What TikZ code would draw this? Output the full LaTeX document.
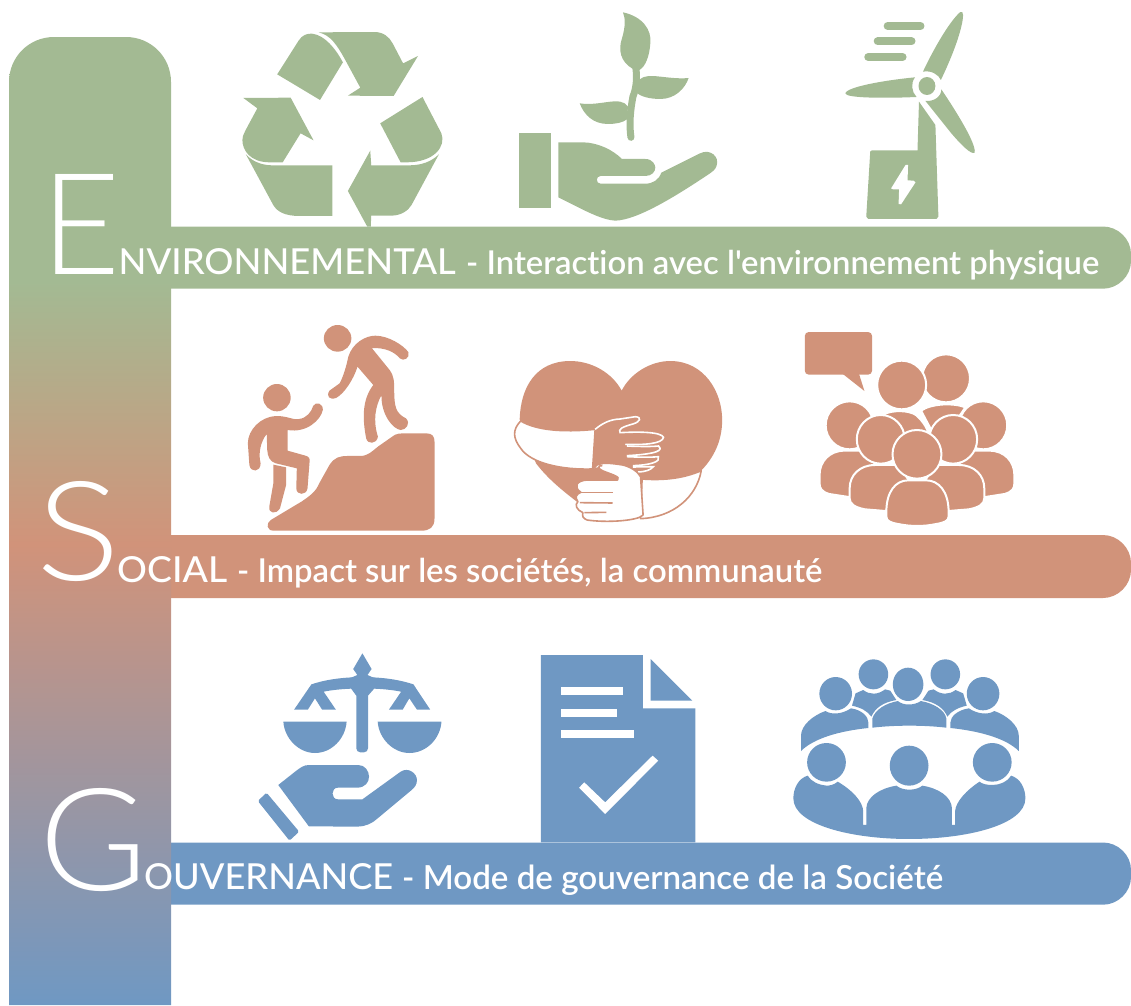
\documentclass[tikz,border=0pt]{standalone}
\usepackage{fontspec}
\usepackage{graphicx}
\newfontfamily\lightf{Lato Light}
\newfontfamily\regf{Lato Medium}
\newfontfamily\medf[Ligatures={NoCommon}]{Lato Semibold}
\definecolor{eg}{HTML}{A3BA93}
\definecolor{sr}{HTML}{D1937A}
\definecolor{gb}{HTML}{6F98C3}
\pgfdeclareverticalshading{esgshade}{100bp}{color(0bp)=(gb); color(25bp)=(gb); color(48.8bp)=(sr); color(62.4bp)=(eg); color(100bp)=(eg)}
\tikzset{
 big/.style={anchor=base west,inner sep=0pt,text=white},
 txt/.style={anchor=base west,inner sep=0pt,text=white},
 wline/.style={draw=white,line width=2pt},
 sline/.style={draw=sr,line width=1.6pt,line join=round},
}
\newcommand{\fitw}[2]{\resizebox{#1pt}{!}{#2}}
\newcommand{\fitwh}[3]{\resizebox{#1pt}{#2pt}{#3}}
\begin{document}
\begin{tikzpicture}[x=1pt,y=-1pt]
\useasboundingbox (0,0) rectangle (1131,1005);
% bars
\fill[eg] (171,226.5) -- (1103,226.5) .. controls (1118,226.5) and (1131,239) .. (1131,254) -- (1131,261) .. controls (1131,276) and (1118,288.7) .. (1103,288.7) -- (171,288.7) -- cycle;
\fill[sr] (171,535) -- (1103,535) .. controls (1118,535) and (1131,548) .. (1131,563) -- (1131,570) .. controls (1131,585) and (1118,598) .. (1103,598) -- (171,598) -- cycle;
\fill[gb] (171,842.5) -- (1103,842.5) .. controls (1118,842.5) and (1131,855) .. (1131,870) -- (1131,877) .. controls (1131,892) and (1118,904.7) .. (1103,904.7) -- (171,904.7) -- cycle;
% column
\shade[shading=esgshade] (9,1005) -- (9,82) .. controls (9,57) and (29,37) .. (54,37) -- (126,37) .. controls (151,37) and (171,57) .. (171,82) -- (171,1005) -- cycle;
% text
\node[big] (bigE) at (41,274) {\fitwh{79}{100}{\lightf E}};
\node[big] (bigS) at (36.6,580) {\fitwh{84}{99}{\lightf S}};
\node[big] (bigG) at (39.4,890) {\fitwh{108}{102}{\lightf G}};
\node[txt] (t1a) at (118.5,274) {\fitwh{337}{26}{\regf NVIRONNEMENTAL}};
\node[txt] (t1c) at (466,274) {\fitw{633}{\medf - Interaction avec l'environnement physique}};
\node[txt] (t2a) at (117,582) {\fitwh{110}{26}{\regf OCIAL}};
\node[txt] (t2c) at (237,582) {\fitw{585}{\medf - Impact sur les sociétés, la communauté}};
\node[txt] (t3a) at (144,889) {\fitwh{249}{26}{\regf OUVERNANCE}};
\node[txt] (t3c) at (402,889) {\fitw{541}{\medf - Mode de gouvernance de la Société}};
% ---------- ENVIRONMENT
\begin{scope}[shift={(220,0)},xscale=0.4975,yscale=0.3333,fill=eg]
\fill (115,223) -- (158,122) .. controls (165,105) and (175,100) .. (185,101) .. controls (210,105) and (232,145) .. (247,187) -- (201,300) -- cycle;
\fill (198,97) -- (310,96) .. controls (328,96) and (340,110) .. (347,130) -- (368,190) -- (398,168) -- (349,288) -- (257,287) -- (282,263) -- (250,175) .. controls (235,135) and (222,105) .. (198,97) -- cycle;
\fill (47,294) -- (142,293) -- (188,421) -- (162,400) -- (126,487) -- (100,487) .. controls (60,487) and (45,450) .. (45,420) .. controls (45,405) and (50,395) .. (75,325) -- cycle;
\fill (52,463) .. controls (65,485) and (85,496) .. (105,496) -- (226,496) -- (226,648) -- (160,648) .. controls (130,648) and (115,635) .. (107,615) -- cycle;
\fill (302,452) -- (304,496) -- (380,496) .. controls (405,496) and (425,485) .. (440,463) -- (385,615) .. controls (378,632) and (365,646) .. (345,647) -- (304,647) -- (303,680) -- (296,680) -- (257,573) -- cycle;
\fill (407,291) -- (445,400) .. controls (455,440) and (430,487) .. (375,487) -- (363,487) -- (322,370) -- cycle;
% hand and plant
\fill (601,399) rectangle (665,624);
\fill (680,427) -- (730,427) .. controls (760,428) and (790,450) .. (808,477) -- (855,477) .. controls (870,477) and (875,495) .. (875,503) .. controls (875,515) and (868,528) .. (855,528) -- (765,528) .. controls (755,528) and (755,551) .. (765,551) -- (855,551) .. controls (870,551) and (882,540) .. (887,518) -- (965,460) .. controls (985,445) and (1005,470) .. (998,498) .. controls (995,510) and (990,515) .. (985,520) .. controls (920,585) and (840,660) .. (795,662) .. controls (765,660) and (725,625) .. (680,592) -- cycle;
\draw[eg,line width=7pt,line cap=round] (826,412) .. controls (822,370) and (825,330) .. (830,290) .. controls (838,260) and (838,230) .. (836,205);
\fill (810,37) .. controls (850,50) and (868,90) .. (865,130) .. controls (863,170) and (855,200) .. (843,210) -- (829,206) .. controls (805,185) and (800,150) .. (808,115) .. controls (815,80) and (815,55) .. (810,37) -- cycle;
\fill (844,238) .. controls (860,215) and (900,240) .. (942,234) .. controls (935,265) and (915,297) .. (885,297) .. controls (865,297) and (845,290) .. (838,278) -- cycle;
\fill (820,320) .. controls (805,285) and (765,320) .. (723,310) .. controls (732,345) and (750,372) .. (780,372) .. controls (795,372) and (810,368) .. (818,358) -- cycle;
% turbine
\draw[eg,line width=8pt,line cap=round] (1342,78) -- (1408,78);
\draw[eg,line width=8pt,line cap=round] (1322,124) -- (1390,124);
\draw[eg,line width=8pt,line cap=round] (1303,171) -- (1372,171);
\fill (1413,215) .. controls (1430,160) and (1465,65) .. (1488,36) .. controls (1495,30) and (1495,50) .. (1490,80) .. controls (1482,130) and (1465,190) .. (1449,240) .. controls (1445,225) and (1430,210) .. (1413,215) -- cycle;
\fill (1397,232) .. controls (1340,240) and (1260,260) .. (1257,280) .. controls (1257,295) and (1340,295) .. (1400,291) .. controls (1390,275) and (1388,250) .. (1397,232) -- cycle;
\fill (1450,268) .. controls (1480,335) and (1520,430) .. (1517,458) .. controls (1510,465) and (1490,435) .. (1470,400) -- (1418,303) .. controls (1435,305) and (1450,290) .. (1450,268) -- cycle;
\fill (1421,258) ellipse[x radius=17,y radius=27];
\fill (1405,305) -- (1438,375) -- (1444,650) -- (1440,657) -- (1303,657) -- (1299,650) -- (1307,455) -- (1310,451) -- (1402,451) -- cycle;
\fill[white] (1378,495) -- (1349,565) -- (1353,568) -- (1365,568) -- (1364,612) -- (1369,613) -- (1398,547) -- (1394,542) -- (1382,541) -- (1383,495) -- cycle;
\end{scope}
% ---------- SOCIAL
\begin{scope}[shift={(230,320)},xscale=0.51,yscale=0.3333,fill=sr]
\fill (211,55) ellipse[x radius=27,y radius=40];
\fill (195,212) -- (215,190) .. controls (222,170) and (228,140) .. (232,110) .. controls (240,70) and (265,47) .. (285,47) .. controls (310,47) and (340,75) .. (350,97) .. controls (353,115) and (340,125) .. (333,115) .. controls (322,95) and (305,83) .. (278,84) -- (313,150) .. controls (322,170) and (322,185) .. (322,210) .. controls (322,260) and (325,280) .. (345,295) .. controls (355,310) and (345,330) .. (335,330) .. controls (320,328) and (296,285) .. (297,225) .. controls (285,260) and (280,300) .. (290,350) .. controls (288,372) and (270,375) .. (267,355) .. controls (260,300) and (258,240) .. (281,195) -- (250,140) .. controls (243,175) and (225,220) .. (208,234) .. controls (195,240) and (188,230) .. (195,212) -- cycle;
\fill (92,233) ellipse[x radius=27,y radius=41];
\fill (35,370) .. controls (35,330) and (60,290) .. (90,288) .. controls (115,288) and (120,300) .. (135,297) .. controls (150,295) and (160,275) .. (163,258) .. controls (168,243) and (183,250) .. (182,270) .. controls (178,300) and (150,340) .. (113,330) -- (113,392) -- (148,407) .. controls (155,410) and (157,415) .. (156,425) -- (152,505) .. controls (150,527) and (130,527) .. (130,505) -- (131,445) -- (90,430) .. controls (78,425) and (74,410) .. (73,390) -- (72,342) .. controls (60,365) and (55,400) .. (60,430) .. controls (60,458) and (40,458) .. (38,435) -- cycle;
\fill (85,434) -- (110,442) -- (110,495) -- (98,565) .. controls (90,585) and (75,580) .. (77,560) -- (85,490) -- cycle;
\fill (80,600) -- (140,545) .. controls (160,525) and (170,510) .. (175,490) -- (195,435) .. controls (205,412) and (215,408) .. (230,408) -- (255,408) .. controls (270,408) and (278,395) .. (290,380) -- (318,350) .. controls (325,340) and (335,340) .. (345,340) -- (385,340) .. controls (397,340) and (401,350) .. (401,365) -- (401,595) .. controls (401,622) and (392,632) .. (375,632) -- (85,632) .. controls (72,632) and (70,610) .. (80,600) -- cycle;
% heart
\fill (768,212) .. controls (750,160) and (710,122) .. (665,123) .. controls (600,125) and (570,200) .. (568,298) -- (600,430) .. controls (625,480) and (655,515) .. (680,545) -- (800,590) -- (925,450) .. controls (950,410) and (965,360) .. (965,300) .. controls (965,215) and (930,125) .. (865,123) .. controls (825,122) and (785,160) .. (768,212) -- cycle;
\filldraw[sline,fill=white] (570,303) .. controls (600,330) and (650,338) .. (716,328) -- (711,447) .. controls (650,450) and (590,430) .. (570,385) .. controls (555,355) and (553,330) .. (570,303) -- cycle;
\filldraw[sline,fill=white] (808,477) .. controls (850,482) and (890,475) .. (924,452) .. controls (915,530) and (870,592) .. (805,596) -- cycle;
\draw[wline,line width=1.6pt] (716,328) .. controls (730,310) and (745,298) .. (765,297) -- (795,290) .. controls (808,292) and (805,305) .. (790,312) .. controls (770,320) and (760,328) .. (765,338) .. controls (800,335) and (845,335) .. (850,352) .. controls (848,372) and (810,375) .. (775,373);
\draw[wline,line width=1.6pt] (778,378) .. controls (805,380) and (830,380) .. (840,378) .. controls (850,390) and (840,402) .. (778,407);
\draw[wline,line width=1.6pt] (778,410) .. controls (805,412) and (830,412) .. (840,410) .. controls (845,425) and (825,435) .. (790,437);
\draw[wline,line width=1.6pt] (790,441) -- (830,440) .. controls (825,450) and (815,455) .. (800,456);
% lower hand
\filldraw[sline,fill=white] (714,445) .. controls (718,430) and (730,425) .. (770,435) .. controls (785,440) and (800,455) .. (805,470) -- (810,585) -- (803,592) .. controls (780,605) and (730,607) .. (700,600) .. controls (692,595) and (690,588) .. (692,578) .. controls (680,570) and (675,555) .. (682,545) .. controls (675,530) and (680,522) .. (688,517) .. controls (672,500) and (680,482) .. (700,480) -- (760,480) .. controls (768,470) and (745,462) .. (730,452) .. controls (720,445) and (722,435) .. (730,437);
\draw[sline] (688,518) -- (750,518);
\draw[sline] (686,548) -- (750,549);
\draw[sline] (695,578) -- (738,577);
% crowd
\fill[rounded corners=4pt] (1127,36) rectangle (1259,164);
\fill (1200,160) -- (1244,213) -- (1233,160) -- cycle;
\tikzset{pp/.style={fill=sr,draw=white,line width=2pt}}
\filldraw[pp] (1404,175) ellipse[x radius=47,y radius=72];
\filldraw[pp] (1317,195) ellipse[x radius=48,y radius=73];
\filldraw[pp] (1283,282) .. controls (1300,270) and (1330,270) .. (1345,285) .. controls (1360,305) and (1370,330) .. (1370,350) -- (1290,350) -- cycle;
\filldraw[pp] (1355,272) .. controls (1375,250) and (1420,248) .. (1442,262) -- (1425,300) -- (1375,330) -- cycle;
\filldraw[pp] (1215,316) ellipse[x radius=47,y radius=72];
\filldraw[pp] (1477,316) ellipse[x radius=47,y radius=72];
\filldraw[pp] (1250,520) -- (1213,531) -- (1175,522) .. controls (1160,515) and (1156,505) .. (1156,490) -- (1156,465) .. controls (1156,425) and (1175,392) .. (1205,392) -- (1240,392) -- (1270,440) -- cycle;
\filldraw[pp] (1444,520) -- (1481,531) -- (1519,522) .. controls (1534,515) and (1538,505) .. (1538,490) -- (1538,465) .. controls (1538,425) and (1519,392) .. (1489,392) -- (1454,392) -- (1424,440) -- cycle;
\filldraw[pp] (1276,358) ellipse[x radius=47,y radius=73];
\filldraw[pp] (1418,358) ellipse[x radius=47,y radius=73];
\filldraw[pp] (1285,573) -- (1245,568) .. controls (1225,562) and (1215,552) .. (1215,535) -- (1215,505) .. controls (1215,465) and (1235,435) .. (1265,435) -- (1310,435) -- (1340,500) -- cycle;
\filldraw[pp] (1409,573) -- (1449,568) .. controls (1469,562) and (1479,552) .. (1479,535) -- (1479,505) .. controls (1479,465) and (1459,435) .. (1429,435) -- (1384,435) -- (1354,500) -- cycle;
\filldraw[pp] (1347,403) ellipse[x radius=48,y radius=73];
\filldraw[pp] (1287,575) .. controls (1287,515) and (1305,481) .. (1330,481) -- (1365,481) .. controls (1390,481) and (1409,515) .. (1409,575) -- (1409,590) .. controls (1409,603) and (1400,608) .. (1385,612) .. controls (1360,620) and (1335,620) .. (1310,612) .. controls (1295,608) and (1287,603) .. (1287,590) -- cycle;
\end{scope}
% ---------- GOVERNANCE
\begin{scope}[shift={(240,645)},xscale=0.51,yscale=0.3333,fill=gb]
\fill[rounded corners=4pt] (228,140) -- (251,140) -- (251,322) -- (228,322) -- cycle;
\fill (240,25) -- (258,72) -- (250,90) -- (265,100) -- (215,100) -- (230,90) -- (222,72) -- cycle;
\fill (140,118) .. controls (170,103) and (200,97) .. (240,96) .. controls (280,97) and (310,103) .. (340,118) -- (373,194) -- (347,194) -- (332,160) -- (319,194) -- (292,194) -- (316,140) .. controls (300,135) and (280,132) .. (263,131) -- (251,152) -- (228,152) -- (218,131) .. controls (200,132) and (180,135) .. (164,140) -- (188,194) -- (161,194) -- (147,160) -- (133,194) -- (106,194) -- cycle;
\fill (85,230) -- (209,230) .. controls (207,280) and (180,324) .. (147,324) .. controls (115,324) and (87,280) .. (85,230) -- cycle;
\fill (270,230) -- (395,230) .. controls (393,280) and (366,324) .. (332,324) .. controls (300,324) and (272,280) .. (270,230) -- cycle;
\fill (75,420) -- (108,380) .. controls (118,368) and (125,360) .. (135,360) -- (232,360) .. controls (245,360) and (253,378) .. (253,395) .. controls (253,412) and (245,428) .. (230,428) -- (192,428) .. controls (178,428) and (178,463) .. (192,463) -- (240,463) -- (315,380) .. controls (330,365) and (347,385) .. (347,405) .. controls (347,420) and (342,428) .. (335,437) -- (270,520) .. controls (260,535) and (245,545) .. (230,545) -- (135,544) -- cycle;
\fill[rounded corners=1.5pt] (35,468) -- (52,443) -- (116,560) -- (97,587) -- cycle;
% document
\fill (590,30) -- (790,30) -- (790,190) -- (893,190) -- (893,592) -- (590,592) -- cycle;
\fill (805,42) -- (887,167) -- (805,167) -- cycle;
\fill[white] (630,126) rectangle (750,149);
\fill[white] (630,192) rectangle (739,215);
\fill[white] (630,256) rectangle (772,279);
\fill[white] (665,428) -- (675,412) -- (716,472) -- (809,332) -- (820,347) -- (716,507) -- cycle;
% meeting
\fill (1242,88) ellipse[x radius=29,y radius=45];
\fill (1383,88) ellipse[x radius=29,y radius=45];
\fill (1310,118) ellipse[x radius=30,y radius=50];
\fill (1168,146) ellipse[x radius=32,y radius=50];
\fill (1457,146) ellipse[x radius=32,y radius=50];
\fill (1100,318) -- (1100,272) .. controls (1100,240) and (1125,210) .. (1148,198) .. controls (1160,210) and (1180,208) .. (1198,190) .. controls (1220,195) and (1232,215) .. (1232,232) -- (1232,249) .. controls (1175,258) and (1125,280) .. (1100,318) -- cycle;
\fill (1527,318) -- (1527,272) .. controls (1527,240) and (1502,210) .. (1479,198) .. controls (1467,210) and (1447,208) .. (1429,190) .. controls (1407,195) and (1393,215) .. (1393,232) -- (1393,249) .. controls (1450,258) and (1502,280) .. (1527,318) -- cycle;
\fill (1240,248) -- (1240,220) .. controls (1245,195) and (1265,175) .. (1290,168) .. controls (1300,182) and (1322,182) .. (1335,168) .. controls (1360,175) and (1382,195) .. (1385,220) -- (1385,248) .. controls (1340,240) and (1285,240) .. (1240,248) -- cycle;
\fill (1200,182) -- (1207,145) -- (1222,135) .. controls (1235,150) and (1250,150) .. (1265,133) -- (1275,137) -- (1287,165) .. controls (1260,172) and (1245,190) .. (1238,215) .. controls (1230,198) and (1218,188) .. (1200,182) -- cycle;
\fill (1425,182) -- (1418,145) -- (1403,135) .. controls (1390,150) and (1375,150) .. (1360,133) -- (1350,137) -- (1338,165) .. controls (1365,172) and (1380,190) .. (1387,215) .. controls (1395,198) and (1407,188) .. (1425,182) -- cycle;
\fill (1150,352) ellipse[x radius=38,y radius=58];
\fill (1312,362) ellipse[x radius=38,y radius=60];
\fill (1475,352) ellipse[x radius=38,y radius=58];
\fill (1113,392) .. controls (1095,400) and (1085,430) .. (1085,460) .. controls (1085,540) and (1200,582) .. (1312,582) .. controls (1425,582) and (1540,540) .. (1540,460) .. controls (1540,430) and (1530,400) .. (1512,392) .. controls (1505,410) and (1490,420) .. (1475,420) .. controls (1465,420) and (1455,417) .. (1450,410) .. controls (1425,435) and (1403,470) .. (1402,500) -- (1402,540) -- (1396,540) -- (1396,490) .. controls (1395,455) and (1370,430) .. (1338,422) .. controls (1325,438) and (1300,438) .. (1287,422) .. controls (1255,430) and (1229,455) .. (1228,490) -- (1228,540) -- (1222,540) -- (1222,500) .. controls (1222,470) and (1200,435) .. (1172,410) .. controls (1165,420) and (1155,422) .. (1150,422) .. controls (1135,420) and (1120,410) .. (1113,392) -- cycle;
\end{scope}
\end{tikzpicture}
\end{document}
